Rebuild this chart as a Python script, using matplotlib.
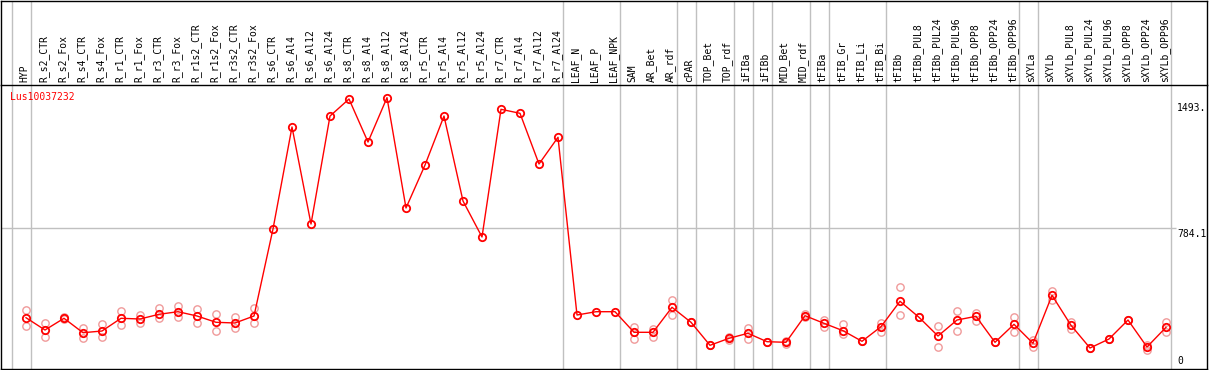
import matplotlib
matplotlib.use('Agg')
import matplotlib.pyplot as plt
import matplotlib.transforms as mtransforms
import numpy as np

categories = ["HYP", "R_s2_CTR", "R_s2_Fox", "R_s4_CTR", "R_s4_Fox", "R_r1_CTR", "R_r1_Fox",
              "R_r3_CTR", "R_r3_Fox", "R_r1s2_CTR", "R_r1s2_Fox", "R_r3s2_CTR", "R_r3s2_Fox",
              "R_s6_CTR", "R_s6_Al4", "R_s6_Al12", "R_s6_Al24", "R_s8_CTR", "R_s8_Al4",
              "R_s8_Al12", "R_s8_Al24", "R_r5_CTR", "R_r5_Al4", "R_r5_Al12", "R_r5_Al24",
              "R_r7_CTR", "R_r7_Al4", "R_r7_Al12", "R_r7_Al24", "LEAF_N", "LEAF_P", "LEAF_NPK",
              "SAM", "AR_Bet", "AR_rdf", "cPAR", "TOP_Bet", "TOP_rdf", "iFIBa", "iFIBb",
              "MID_Bet", "MID_rdf", "tFIBa", "tFIB_Gr", "tFIB_Li", "tFIB_Bi", "tFIBb",
              "tFIBb_PUL8", "tFIBb_PUL24", "tFIBb_PUL96", "tFIBb_OPP8", "tFIBb_OPP24",
              "tFIBb_OPP96", "sXYLa", "sXYLb", "sXYLb_PUL8", "sXYLb_PUL24", "sXYLb_PUL96",
              "sXYLb_OPP8", "sXYLb_OPP24", "sXYLb_OPP96"]

means = [298.5, 231.8, 295.3, 217.1, 226.3, 295.3, 291.5, 317.0, 331.1, 307.8, 273.6, 269.8, 307.8,
         780.0, 1333.7, 807.0, 1393.0, 1485.6, 1252.0, 1493.0, 894.0, 1127.0, 1393.0, 932.0, 736.6,
         1429.7, 1408.0, 1132.8, 1277.8, 313.2, 331.1, 331.1,
         219.3, 219.3, 355.0, 273.6, 148.7, 186.7, 213.9, 168.3, 165.0, 309.4, 268.1, 228.0,
         170.4, 249.7, 387.6, 300.7, 199.2, 286.0, 306.1, 165.0, 262.7, 159.6, 420.1, 257.3,
         134.1, 182.9, 286.0, 139.5, 246.4]

nan = float('nan')
rep_a = [340.3, 271.4, 300.7, 241.0, 264.3, 334.9, 313.2, 349.6, 363.7, 345.8, 318.6, 304.0, 349.6,
         nan, nan, nan, nan, nan, nan, nan, nan, nan, nan, nan, nan, nan, nan, nan, nan,
         nan, nan, nan,
         249.7, 237.2, 394.6, 273.6, 148.7, 195.4, 244.3, 168.3, 173.7, 317.0, 286.0, 266.0,
         170.4, 268.1, 463.6, 300.7, 255.1, 333.3, 325.7, 165.0, 304.0, 177.5, 445.1, 275.2,
         134.1, 182.9, 286.0, 148.7, 276.8]
rep_b = [255.1, 192.2, 289.9, 186.7, 192.2, 258.9, 268.1, 295.3, 304.0, 268.1, 228.0, 241.0, 268.1,
         nan, nan, nan, nan, nan, nan, nan, nan, nan, nan, nan, nan, nan, nan, nan, nan,
         nan, nan, nan,
         182.9, 195.4, 314.8, 273.6, 148.7, 177.5, 181.3, 168.3, 155.8, 300.7, 249.7, 208.4,
         170.4, 222.5, 311.6, 300.7, 137.9, 228.0, 282.3, 165.0, 220.9, 137.9, 395.0, 238.8,
         134.1, 182.9, 286.0, 123.2, 222.5]

group_ends = [-1, 0, 28, 31, 34, 35, 37, 38, 39, 41, 42, 45, 52, 53, 60]
gene_name = "Lus10037232"
grid_value = 784.1
ytick_labels = ["1493.", "784.1", "0"]

W, H = 1209, 370
fig = plt.figure(figsize=(W / 100, H / 100), dpi=100)
x = np.arange(len(categories))
xl = ((1 - 26) / 19, (1207 - 26) / 19)

ax = fig.add_axes([1 / W, 1 / H, 1206 / W, 284 / H])
hx = fig.add_axes([1 / W, 285 / H, 1206 / W, 84.5 / H])
for a in (ax, hx):
    a.set_xlim(*xl)
    a.set_xticks([])
    a.set_yticks([])
    for s in a.spines.values():
        s.set_color('black')
        s.set_linewidth(1.0)
ax.spines['top'].set_visible(False)
ax.set_ylim(20.1, 1561.6)
hx.set_ylim(0, 1)

mono = 'DejaVu Sans Mono'
grey = '#c0c0c0'
for b in group_ends:
    for a in (ax, hx):
        a.axvline(b + 0.2474, color=grey, lw=1.0, zorder=1)
ax.hlines(grid_value, xl[0], 60.55, color=grey, lw=1.0, zorder=1)

ax.plot(x, rep_a, 'o', mfc='none', mec='#f09a9a', ms=5.3, mew=1.0, zorder=2)
ax.plot(x, rep_b, 'o', mfc='none', mec='#f09a9a', ms=5.3, mew=1.0, zorder=2)
ax.plot(x, means, '-', color='red', lw=1.0, zorder=3)
ax.plot(x, means, 'o', mfc='none', mec='red', ms=5.3, mew=1.3, zorder=4)

htrans = mtransforms.blended_transform_factory(hx.transData, hx.transAxes)
for i, c in enumerate(categories):
    hx.text(i - 0.08, 2.5 / 84.5, c, rotation=90, ha='center', va='bottom',
            fontfamily=mono, fontsize=7, transform=htrans)

ax.text(9 / 1206, 1 - 6.5 / 284, gene_name, color='red', fontfamily=mono, fontsize=7,
        ha='left', va='top', transform=ax.transAxes)

ytrans = mtransforms.blended_transform_factory(ax.transAxes, ax.transData)
xfrac = (1177 - 1) / 1206
ax.text(xfrac, max(means) - 5.5 * 5.428, ytick_labels[0], fontfamily=mono, fontsize=7,
        ha='left', va='top', transform=ytrans)
ax.text(xfrac, grid_value - 0.5 * 5.428, ytick_labels[1], fontfamily=mono, fontsize=7,
        ha='left', va='top', transform=ytrans)
ax.text(xfrac, 2.5 / 284, ytick_labels[2], fontfamily=mono, fontsize=7, ha='left',
        va='bottom', transform=ax.transAxes)

fig.savefig('out.png', dpi=100)
